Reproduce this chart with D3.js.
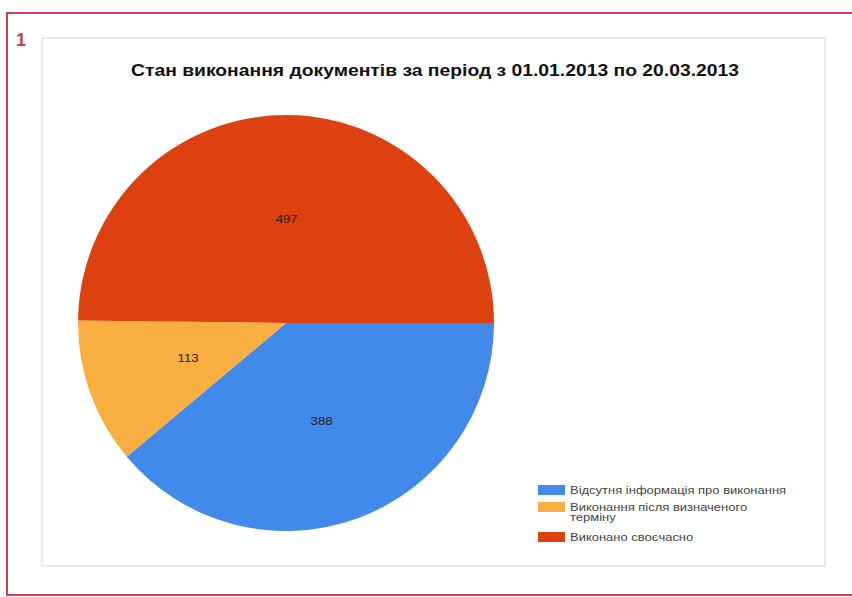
<!DOCTYPE html>
<html>
<head>
<meta charset="utf-8">
<script src="https://cdn.jsdelivr.net/npm/d3@7"></script>
<style>
  body { margin: 0; background: #fff; }
  svg { display: block; font-family: "Liberation Sans", Arial, sans-serif; }
</style>
</head>
<body>
<svg id="chart" width="852" height="597"></svg>
<script>
const title = "Стан виконання документів за період з 01.01.2013 по 20.03.2013";
const categories = ["Відсутня інформація про виконання", "Виконання після визначеного терміну", "Виконано своєчасно"];
const legendLines = [["Відсутня інформація про виконання"], ["Виконання після визначеного", "терміну"], ["Виконано своєчасно"]];
const values = [388, 113, 497];
const colors = ["#4189ea", "#f9ae41", "#dd4110"];

const svg = d3.select("#chart");

// outer red frame + number
svg.append("rect")
  .attr("x", 7).attr("y", 13).attr("width", 860).attr("height", 582)
  .attr("fill", "none").attr("stroke", "#c8424f").attr("stroke-width", 2);
svg.append("text")
  .attr("x", 16).attr("y", 46)
  .attr("fill", "#c8424f").attr("font-weight", "bold").attr("font-size", 18)
  .text("1");

// chart box
svg.append("rect")
  .attr("x", 42).attr("y", 38).attr("width", 783).attr("height", 528)
  .attr("fill", "#fff").attr("stroke", "#e2e2e2").attr("stroke-width", 1.5);

svg.append("text")
  .attr("x", 131).attr("y", 76)
  .attr("font-weight", "bold").attr("font-size", 17).attr("fill", "#111")
  .attr("textLength", 608).attr("lengthAdjust", "spacingAndGlyphs")
  .text(title);

const cx = 286, cy = 323, r = 208;
const g = svg.append("g").attr("transform", `translate(${cx},${cy})`);

const pie = d3.pie().sort(null)
  .startAngle(Math.PI / 2).endAngle(Math.PI / 2 + 2 * Math.PI);
const arcs = pie(values);
const arc = d3.arc().innerRadius(0).outerRadius(r);
const labelArc = d3.arc().innerRadius(r * 0.5).outerRadius(r * 0.5);

g.selectAll("path")
  .data(arcs)
  .enter().append("path")
  .attr("d", arc)
  .attr("fill", (d, i) => colors[i]);

g.selectAll("text.lbl")
  .data(arcs)
  .enter().append("text")
  .attr("class", "lbl")
  .attr("transform", d => `translate(${labelArc.centroid(d)}) scale(1.2,1)`)
  .attr("text-anchor", "middle")
  .attr("dy", "0.35em")
  .attr("font-size", 11).attr("fill", "#222")
  .text(d => d.data);

// legend
const legendY = [490, 507, 537];
const legend = svg.append("g");
categories.forEach((c, i) => {
  legend.append("rect")
    .attr("x", 538).attr("y", legendY[i] - 5).attr("width", 27).attr("height", 10)
    .attr("fill", colors[i]);
  const t = legend.append("text")
    .attr("transform", `translate(570,${legendY[i] + 3.5}) scale(1.3,1)`)
    .attr("font-size", 10).attr("fill", "#444");
  legendLines[i].forEach((line, j) => {
    t.append("tspan").attr("x", 0).attr("dy", j === 0 ? 0 : 11).text(line);
  });
});
</script>
</body>
</html>
